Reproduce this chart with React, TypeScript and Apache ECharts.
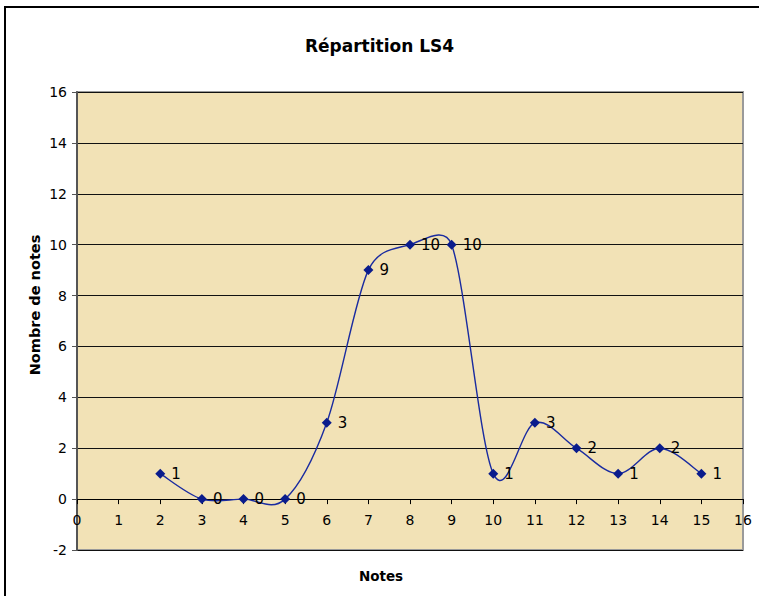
import React, { useEffect, useRef } from "react";
import * as echarts from "echarts";

const notes = [2, 3, 4, 5, 6, 7, 8, 9, 10, 11, 12, 13, 14, 15];
const counts = [1, 0, 0, 0, 3, 9, 10, 10, 1, 3, 2, 1, 2, 1];
const titleText = "Répartition LS4";
const xName = "Notes";
const yName = "Nombre de notes";

const Y_MIN = -2;
const Y_MAX = 16;
const GRID_H = 458;

export default function App() {
  const ref = useRef<HTMLDivElement>(null);
  useEffect(() => {
    if (!ref.current) return;
    const chart = echarts.init(ref.current, null, { renderer: "svg" });
    const font = "'DejaVu Sans', Verdana, sans-serif";

    // Excel-like smoothed curve, drawn segment by segment through the axes' scales
    const renderSeg = (params: any, api: any) => {
      const i = params.dataIndex;
      const n = notes.length;
      if (i >= n - 1) return null;
      const P = (k: number) => {
        const kk = Math.max(0, Math.min(n - 1, k));
        return api.coord([notes[kk], counts[kk]]);
      };
      const p0 = P(i - 1);
      const p1 = P(i);
      const p2 = P(i + 1);
      const p3 = P(i + 2);
      const dist = (a: number[], b: number[]) => Math.hypot(a[0] - b[0], a[1] - b[1]);
      const d12 = dist(p1, p2);
      const d02 = dist(p0, p2);
      const d13 = dist(p1, p3);
      const f1 = d02 / 6 < d12 / 2 ? 1 / 6 : d02 > 0 ? d12 / (2 * d02) : 0;
      const f2 = d13 / 6 < d12 / 2 ? 1 / 6 : d13 > 0 ? d12 / (2 * d13) : 0;
      const cp1 = [p1[0] + (p2[0] - p0[0]) * f1, p1[1] + (p2[1] - p0[1]) * f1];
      const cp2 = [p2[0] - (p3[0] - p1[0]) * f2, p2[1] - (p3[1] - p1[1]) * f2];
      return {
        type: "bezierCurve",
        shape: {
          x1: p1[0],
          y1: p1[1],
          x2: p2[0],
          y2: p2[1],
          cpx1: cp1[0],
          cpy1: cp1[1],
          cpx2: cp2[0],
          cpy2: cp2[1],
        },
        style: { stroke: "#1A2BA0", lineWidth: 1.4, fill: "none" },
      };
    };

    chart.setOption({
      animation: false,
      backgroundColor: "#ffffff",
      textStyle: { fontFamily: font },
      title: {
        text: titleText,
        left: "center",
        top: 32,
        textStyle: { fontSize: 17, fontWeight: "bold", color: "#000", fontFamily: font },
      },
      graphic: [
        {
          type: "rect",
          shape: { x: 5, y: 7, width: 800, height: 700 },
          style: { fill: "none", stroke: "#000", lineWidth: 2 },
          silent: true,
          z: 100,
        },
        {
          type: "text",
          x: 381,
          y: 576,
          style: {
            text: xName,
            fontSize: 13.5,
            fontWeight: "bold",
            fontFamily: font,
            fill: "#000",
            align: "center",
            verticalAlign: "middle",
          },
        },
        {
          type: "text",
          x: 35,
          y: 305,
          rotation: Math.PI / 2,
          style: {
            text: yName,
            fontSize: 14.5,
            fontWeight: "bold",
            fontFamily: font,
            fill: "#000",
            align: "center",
            verticalAlign: "middle",
          },
        },
      ],
      grid: {
        left: 77,
        top: 92,
        width: 666,
        height: GRID_H,
        show: true,
        backgroundColor: "#F2E2B6",
        borderColor: "#9a9a9a",
        borderWidth: 2,
      },
      xAxis: {
        type: "value",
        min: 0,
        max: 16,
        interval: 1,
        offset: -((0 - Y_MIN) / (Y_MAX - Y_MIN)) * GRID_H,
        axisLine: { show: true, onZero: false, lineStyle: { color: "#000", width: 1 } },
        axisTick: { show: true, length: 5, lineStyle: { color: "#000" } },
        axisLabel: { fontSize: 14, color: "#000", margin: 14, fontFamily: font },
        splitLine: { show: false },
      },
      yAxis: {
        type: "value",
        min: Y_MIN,
        max: Y_MAX,
        interval: 2,
        axisLine: { show: true, lineStyle: { color: "#555", width: 2 } },
        axisTick: { show: true, length: 5, lineStyle: { color: "#555" } },
        axisLabel: { fontSize: 14, color: "#000", margin: 10, fontFamily: font },
        splitLine: { show: true, lineStyle: { color: "#111", width: 1 } },
      },
      series: [
        {
          type: "custom",
          renderItem: renderSeg,
          data: notes.map((n, i) => [n, counts[i]]),
          encode: { x: 0, y: 1 },
          silent: true,
          z: 2,
        },
        {
          type: "scatter",
          data: notes.map((n, i) => [n, counts[i]]),
          symbol: "diamond",
          symbolSize: 10,
          itemStyle: { color: "#0A1C8C", opacity: 1 },
          z: 3,
          label: {
            show: true,
            position: "right",
            distance: 6,
            fontSize: 15,
            color: "#000",
            opacity: 1,
            fontFamily: font,
            formatter: (p: any) => String(p.value[1]),
          },
        },
      ],
    });
    return () => chart.dispose();
  }, []);
  return (
    <div
      ref={ref}
      style={{ position: "absolute", left: 0, top: 0, width: 759, height: 596 }}
    />
  );
}
